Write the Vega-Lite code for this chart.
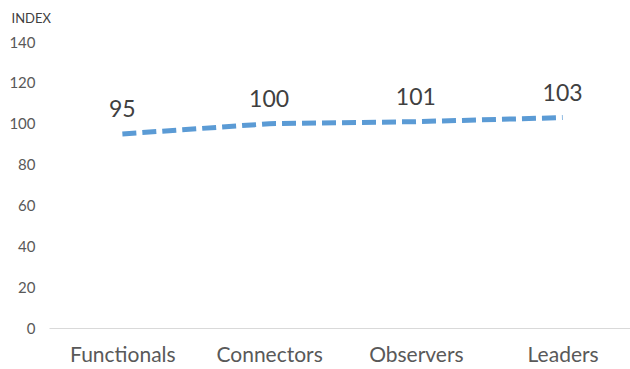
{
  "$schema": "https://vega.github.io/schema/vega-lite/v6.json",
  "autosize": "none",
  "padding": {"left": 49, "top": 42, "right": 0, "bottom": 41},
  "width": 587,
  "height": 286,
  "background": "white",
  "config": {
    "view": {"stroke": null},
    "font": "Lato"
  },
  "data": {
    "values": [
      {"segment": "Functionals", "index": 95},
      {"segment": "Connectors", "index": 100},
      {"segment": "Observers", "index": 101},
      {"segment": "Leaders", "index": 103}
    ]
  },
  "encoding": {
    "x": {
      "field": "segment",
      "type": "nominal",
      "sort": null,
      "scale": {"paddingInner": 0, "paddingOuter": 0},
      "axis": {
        "title": null,
        "labelAngle": 0,
        "labelFontSize": 21,
        "labelColor": "#595959",
        "labelPadding": 16,
        "ticks": false,
        "domainColor": "#D9D9D9",
        "domainWidth": 1
      }
    },
    "y": {
      "field": "index",
      "type": "quantitative",
      "scale": {"domain": [0, 140]},
      "axis": {
        "values": [0, 20, 40, 60, 80, 100, 120, 140],
        "grid": false,
        "domain": false,
        "ticks": false,
        "labelFontSize": 15,
        "labelColor": "#595959",
        "labelPadding": 14,
        "title": "INDEX",
        "titleAngle": 0,
        "titleAlign": "left",
        "titleBaseline": "alphabetic",
        "titleX": -38,
        "titleY": -20,
        "titleFontSize": 13,
        "titleFontWeight": "normal",
        "titleColor": "#404040"
      }
    }
  },
  "layer": [
    {
      "mark": {
        "type": "line",
        "color": "#5B9BD5",
        "strokeWidth": 5,
        "strokeDash": [14, 6]
      }
    },
    {
      "mark": {
        "type": "text",
        "baseline": "bottom",
        "dy": -12,
        "fontSize": 23,
        "color": "#404040"
      },
      "encoding": {"text": {"field": "index", "type": "quantitative"}}
    }
  ]
}
